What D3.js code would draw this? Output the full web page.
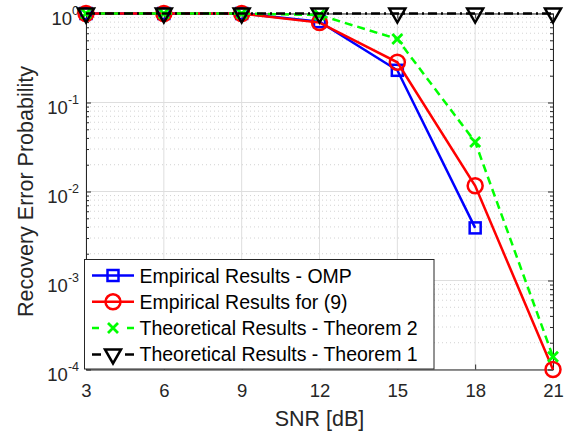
<!DOCTYPE html>
<html>
<script src="https://d3js.org/d3.v7.min.js"></script>

<head>
    <style>
        body {
            margin: 0;
            background-color: white;
            font-family: "Liberation Sans", Arial, Helvetica, sans-serif;
        }

        svg {
            display: block;
        }
    </style>
</head>

<body>
</body>
<script>
    const snr = [3, 6, 9, 12, 15, 18, 21];
    const ompVals = [1, 1, 1, 0.81, 0.23, 0.0039];
    const eq9Vals = [1, 1, 1, 0.79, 0.283, 0.0116, 0.0001];
    const thm2Vals = [1, 1, 1, 0.96, 0.517, 0.036, 0.000139];
    const thm1Vals = [1, 1, 1, 1, 1, 1, 1];
    const yTicks = [1e-4, 1e-3, 1e-2, 1e-1, 1];
    const yExps = [-4, -3, -2, -1, 0];
    const legendLabels = ["Empirical Results - OMP", "Empirical Results for (9)",
        "Theoretical Results - Theorem 2", "Theoretical Results - Theorem 1"];

    const width = 567,
        height = 437;
    const svg = d3.select("body").append("svg").attr("width", width).attr("height", height);

    const mLeft = 86, mRight = 553, mTop = 13.5, mBottom = 369.5;
    const x = d3.scaleLinear().domain([3, 21]).range([mLeft, mRight]);
    const y = d3.scaleLog().domain([1e-4, 1]).range([mBottom, mTop]);

    // minor grid (dotted) on log axis
    const minor = [];
    for (let e = -4; e < 0; e++) {
        for (let m = 2; m <= 9; m++) minor.push(m * Math.pow(10, e));
    }
    svg.append("g").selectAll("line").data(minor).join("line")
        .attr("x1", mLeft).attr("x2", mRight)
        .attr("y1", d => y(d)).attr("y2", d => y(d))
        .attr("stroke", "#c8c8c8").attr("stroke-width", 0.8)
        .attr("stroke-dasharray", "1,3");

    // major grid
    svg.append("g").selectAll("line").data(yTicks).join("line")
        .attr("x1", mLeft).attr("x2", mRight)
        .attr("y1", d => y(d)).attr("y2", d => y(d))
        .attr("stroke", "#dedede").attr("stroke-width", 1);
    svg.append("g").selectAll("line").data(snr).join("line")
        .attr("x1", d => x(d)).attr("x2", d => x(d))
        .attr("y1", mTop).attr("y2", mBottom)
        .attr("stroke", "#dedede").attr("stroke-width", 1);

    // axes box with inward ticks
    const xAxis = svg.append("g").attr("transform", `translate(0,${mBottom})`)
        .call(d3.axisBottom(x).tickValues(snr).tickSizeInner(-5).tickSizeOuter(0).tickPadding(14));
    const xTop = svg.append("g").attr("transform", `translate(0,${mTop})`)
        .call(d3.axisTop(x).tickValues(snr).tickSizeInner(-5).tickSizeOuter(0).tickFormat(""));
    const yAxis = svg.append("g").attr("transform", `translate(${mLeft},0)`)
        .call(d3.axisLeft(y).tickValues(yTicks).tickSizeInner(-5).tickSizeOuter(0).tickFormat(""));
    const yRight = svg.append("g").attr("transform", `translate(${mRight},0)`)
        .call(d3.axisRight(y).tickValues(yTicks).tickSizeInner(-5).tickSizeOuter(0).tickFormat(""));
    svg.append("g").attr("transform", `translate(${mLeft},0)`)
        .call(d3.axisLeft(y).tickValues(minor).tickSizeInner(-3).tickSizeOuter(0).tickFormat(""))
        .call(g => g.select(".domain").remove())
        .selectAll("line").attr("stroke", "#262626");
    svg.append("g").attr("transform", `translate(${mRight},0)`)
        .call(d3.axisRight(y).tickValues(minor).tickSizeInner(-3).tickSizeOuter(0).tickFormat(""))
        .call(g => g.select(".domain").remove())
        .selectAll("line").attr("stroke", "#262626");
    [xAxis, xTop, yAxis, yRight].forEach(g => {
        g.selectAll("path, line").attr("stroke", "#262626");
    });
    xAxis.selectAll("text")
        .attr("font-size", "18.5px")
        .attr("font-family", "Liberation Sans, Arial, sans-serif")
        .attr("fill", "#262626");

    // y tick labels with exponents
    yTicks.forEach((t, i) => {
        const txt = svg.append("text")
            .attr("x", 79)
            .attr("y", y(t) + 11)
            .attr("text-anchor", "end")
            .attr("font-size", "18.5px")
            .attr("fill", "#262626");
        txt.append("tspan").text("10");
        txt.append("tspan").attr("dy", -10).attr("font-size", "12.5px").text(yExps[i]);
    });

    // axis labels
    svg.append("text")
        .attr("x", (mLeft + mRight) / 2)
        .attr("y", 426)
        .attr("text-anchor", "middle")
        .attr("font-size", "21.5px")
        .attr("fill", "#262626")
        .text("SNR [dB]");
    svg.append("text")
        .attr("transform", `translate(33,${(mTop + mBottom) / 2}) rotate(-90)`)
        .attr("text-anchor", "middle")
        .attr("font-size", "21.5px")
        .attr("fill", "#262626")
        .text("Recovery Error Probability");

    const series = [
        { vals: ompVals, color: "#0000ff", dash: null, legDash: null, marker: "square" },
        { vals: eq9Vals, color: "#ff0000", dash: null, legDash: null, marker: "circle" },
        { vals: thm2Vals, color: "#00ff00", dash: "8,5", legDash: "7,28", marker: "x" },
        { vals: thm1Vals, color: "#000000", dash: "9,4,2,4", legDash: "9,24", marker: "triangle" }
    ];

    const line = d3.line().x(d => x(d[0])).y(d => y(d[1]));

    function drawMarker(g, type, cx, cy, color) {
        if (type === "square") {
            g.append("rect").attr("x", cx - 5.5).attr("y", cy - 5.5)
                .attr("width", 11).attr("height", 11)
                .attr("fill", "none").attr("stroke", color).attr("stroke-width", 2.5);
        } else if (type === "circle") {
            g.append("circle").attr("cx", cx).attr("cy", cy).attr("r", 7.5)
                .attr("fill", "none").attr("stroke", color).attr("stroke-width", 2.5);
        } else if (type === "x") {
            g.append("path")
                .attr("d", `M${cx - 5},${cy - 5}L${cx + 5},${cy + 5}M${cx - 5},${cy + 5}L${cx + 5},${cy - 5}`)
                .attr("stroke", color).attr("stroke-width", 2.8);
        } else if (type === "triangle") {
            g.append("path")
                .attr("d", `M${cx - 8},${cy - 5}L${cx + 8},${cy - 5}L${cx},${cy + 9}Z`)
                .attr("fill", "none").attr("stroke", color).attr("stroke-width", 2.5)
                .attr("stroke-linejoin", "miter");
        }
    }

    series.forEach(s => {
        const pts = s.vals.map((v, i) => [snr[i], v]);
        const g = svg.append("g");
        g.append("path")
            .datum(pts)
            .attr("d", line)
            .attr("fill", "none")
            .attr("stroke", s.color)
            .attr("stroke-width", 2.5)
            .attr("stroke-dasharray", s.dash);
        pts.forEach(p => drawMarker(g, s.marker, x(p[0]), y(p[1]), s.color));
    });

    // legend
    const lg = svg.append("g");
    lg.append("rect")
        .attr("x", 84.5).attr("y", 259.5)
        .attr("width", 349.5).attr("height", 109.5)
        .attr("fill", "white").attr("stroke", "#262626").attr("stroke-width", 1);
    series.forEach((s, i) => {
        const ly = 275.5 + i * 26.3;
        lg.append("line")
            .attr("x1", 92).attr("x2", 134)
            .attr("y1", ly).attr("y2", ly)
            .attr("stroke", s.color).attr("stroke-width", 2.5)
            .attr("stroke-dasharray", s.legDash);
        drawMarker(lg, s.marker, 113, ly, s.color);
        lg.append("text")
            .attr("x", 139.5)
            .attr("y", ly + 7)
            .attr("font-size", "19.5px")
            .attr("fill", "black")
            .text(legendLabels[i]);
    });
</script>

</html>
